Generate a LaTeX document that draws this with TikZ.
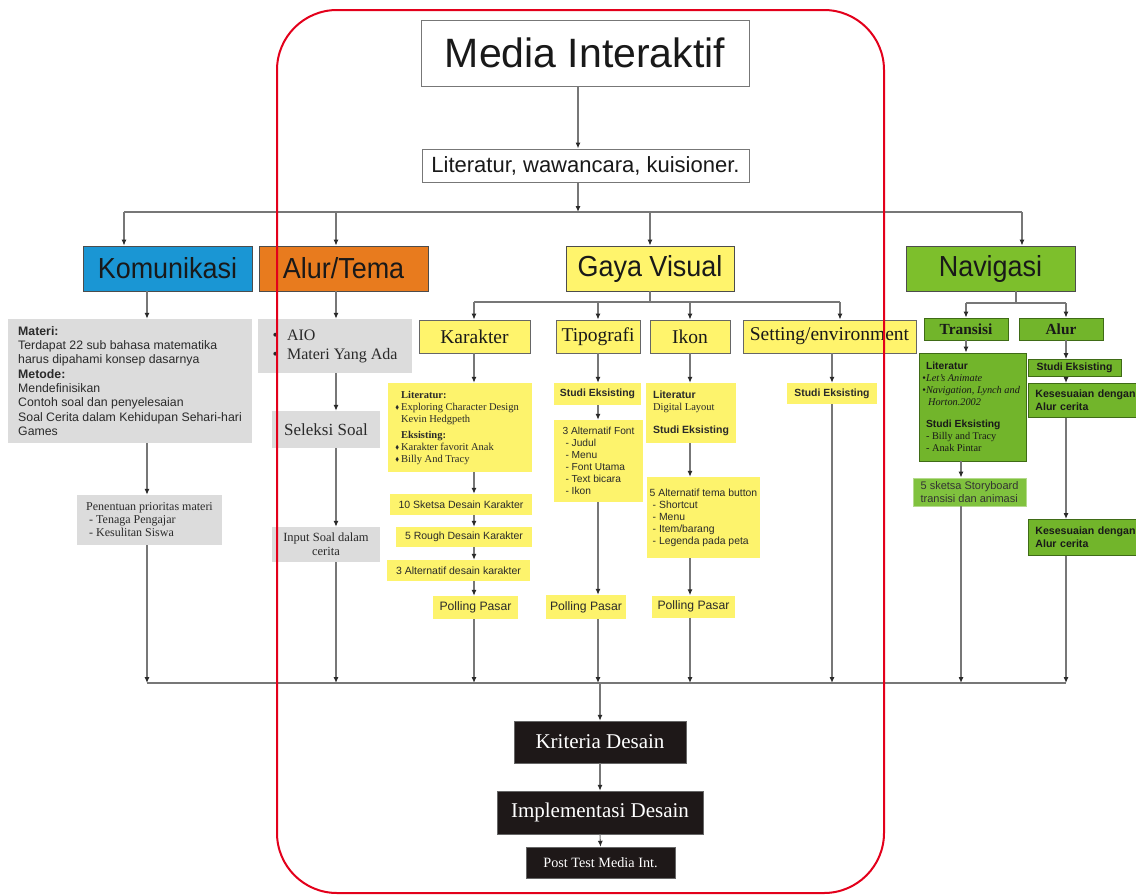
\documentclass[tikz,border=0pt]{standalone}
\usepackage{fontspec}
\usepackage{graphicx}
\usepackage{amssymb}
\setmainfont{Liberation Serif}
\newfontfamily\arial{Liberation Sans}
\newfontfamily\narrow[FakeStretch=0.93]{Liberation Sans}
\usetikzlibrary{arrows.meta,calc}
\newcommand{\fsz}[2]{\fontsize{#1}{#2}\selectfont}
\newcommand{\dmd}{\llap{\raisebox{0.8pt}{\scalebox{0.55}{$\blacklozenge$}}\hspace{2pt}}}
\definecolor{lc}{HTML}{777777}
\definecolor{ah}{HTML}{2A2A2A}
\definecolor{tx}{HTML}{2A2A2A}
\definecolor{cblue}{HTML}{1A96D4}
\definecolor{corange}{HTML}{E87B1E}
\definecolor{cyellow}{HTML}{FFF46C}
\definecolor{cgreen}{HTML}{7DBF2C}
\definecolor{ysm}{HTML}{FDF36C}
\definecolor{gry}{HTML}{DCDCDC}
\definecolor{grn}{HTML}{72B52B}
\definecolor{grnd}{HTML}{3F6B16}
\definecolor{grnl}{HTML}{80C23E}
\definecolor{grnb}{HTML}{B4DA8C}
\definecolor{blk}{HTML}{1E1818}
\definecolor{redf}{HTML}{E3001B}
\begin{document}
\begin{tikzpicture}[x=1pt,y=-1pt,
  ln/.style={draw=lc,line width=1.1pt},
  arr/.style={ln,-{Latex[length=6pt,width=5pt,color=ah]}},
  mainb/.style={draw=lc,fill=white,line width=1pt,inner sep=0pt,text=black!90},
  cat/.style={draw=black!70,line width=0.8pt,inner sep=0pt,minimum height=45,font=\narrow\fsz{29}{32},text=black!90},
  sub/.style={draw=black!60,fill=cyellow,line width=0.8pt,inner sep=0pt,minimum height=33,font=\fsz{19.5}{22},text=black!90},
  ys/.style={fill=ysm,inner sep=0pt,text=tx},
  gy/.style={fill=gry,inner sep=0pt,text=tx},
  gr/.style={fill=grn,draw=grnd,line width=0.8pt,inner sep=0pt,text=black!90},
  grl/.style={fill=grnl,draw=grnb,line width=0.8pt,inner sep=0pt,text=black!80},
  bk/.style={fill=blk,draw=black!60,inner sep=0pt,text=white,font=\fsz{21}{24}},
  poll/.style={font=\arial\fsz{12.2}{14}},
  studi/.style={font=\arial\bfseries\fsz{10.4}{12}},
  sml/.style={font=\arial\fsz{10.5}{12}}
]
\useasboundingbox (0,0) rectangle (1136,895);

% top
\node[mainb,minimum width=328,minimum height=66,font=\arial\fsz{41}{45}] (title) at (585,53) {Media Interaktif};
\node[mainb,minimum width=327,minimum height=33,font=\arial\fsz{22}{24}] (lit) at (585.5,165.5) {Literatur, wawancara, kuisioner.};

% categories
\node[cat,fill=cblue,minimum width=169] (kom) at (167.5,268.5) {Komunikasi};
\node[cat,fill=corange,minimum width=169] (alur) at (343.5,268.5) {Alur/Tema};
\node[cat,fill=cyellow,minimum width=168] (gaya) at (650,268.5) {Gaya Visual};
\node[cat,fill=cgreen,minimum width=169] (nav) at (990.5,268.5) {Navigasi};

% Komunikasi column
\node[gy,minimum width=244,minimum height=124,align=left,font=\arial\fsz{12.3}{14.3}] (komA) at (130,381) {\textbf{Materi:}\\Terdapat 22 sub bahasa matematika\\harus dipahami konsep dasarnya\\\textbf{Metode:}\\Mendefinisikan\\Contoh soal dan penyelesaian\\Soal Cerita dalam Kehidupan Sehari-hari\\Games};
\node[gy,minimum width=145,minimum height=50,align=left,font=\fsz{12}{13}] (komB) at (149.5,520) {Penentuan prioritas materi\\\hspace{3pt}- Tenaga Pengajar\\\hspace{3pt}- Kesulitan Siswa};

% Alur/Tema column
\node[gy,minimum width=154,minimum height=54,align=left,font=\fsz{16}{19}] (alA) at (335,346) {\textbullet\hspace{9pt}AIO\\\textbullet\hspace{9pt}Materi Yang Ada};
\node[gy,minimum width=108,minimum height=37,font=\fsz{17}{19}] (alB) at (326,429.5) {Seleksi Soal};
\node[gy,minimum width=108,minimum height=35,align=center,font=\fsz{12.5}{14}] (alC) at (326,544.5) {Input Soal dalam\\cerita};

% Gaya Visual sub-categories
\node[sub,minimum width=111] (kar) at (474.5,336.5) {Karakter};
\node[sub,minimum width=84] (tip) at (598,336.5) {Tipografi};
\node[sub,minimum width=80] (ikon) at (690,336.5) {Ikon};
\node[sub,minimum width=173] (set) at (829.5,336.5) {Setting/environment};

% Karakter column
\node[ys,minimum width=144,minimum height=89,align=left,font=\fsz{10.5}{12}] (kA) at (460,427.5) {\textbf{Literatur:}\\\dmd Exploring Character Design\\Kevin Hedgpeth\\[4pt]\textbf{Eksisting:}\\\dmd Karakter favorit Anak\\\dmd Billy And Tracy};
\node[ys,sml,minimum width=142,minimum height=21] (kB) at (461,504.5) {10 Sketsa Desain Karakter};
\node[ys,sml,minimum width=136,minimum height=20] (kC) at (464,537) {5 Rough Desain Karakter};
\node[ys,sml,minimum width=143,minimum height=21] (kD) at (458.5,570.5) {3 Alternatif desain karakter};
\node[ys,poll,minimum width=85,minimum height=23] (kE) at (475.5,607.5) {Polling Pasar};

% Tipografi column
\node[ys,studi,minimum width=87,minimum height=22] (tipA) at (597.5,394) {Studi Eksisting};
\node[ys,minimum width=89,minimum height=82,align=left,font=\arial\fsz{10.2}{12}] (tipB) at (598.5,461) {3 Alternatif Font\\\hspace{3pt}- Judul\\\hspace{3pt}- Menu\\\hspace{3pt}- Font Utama\\\hspace{3pt}- Text bicara\\\hspace{3pt}- Ikon};
\node[ys,poll,minimum width=80,minimum height=24] (tipC) at (586,607) {Polling Pasar};

% Ikon column
\node[ys,minimum width=90,minimum height=60,align=left,font=\fsz{10.5}{12.5}] (iA) at (691,413) {{\arial\bfseries Literatur}\\Digital Layout\\[10pt]{\arial\bfseries Studi Eksisting}};
\node[ys,minimum width=113,minimum height=81,align=left,font=\arial\fsz{10.4}{12}] (iB) at (703.5,517.5) {5 Alternatif tema button\\\hspace{3pt}- Shortcut\\\hspace{3pt}- Menu\\\hspace{3pt}- Item/barang\\\hspace{3pt}- Legenda pada peta};
\node[ys,poll,minimum width=83,minimum height=22] (iC) at (693.5,606.5) {Polling Pasar};

% Setting column
\node[ys,studi,minimum width=90,minimum height=21] (sA) at (832,393.5) {Studi Eksisting};

% Navigasi
\node[gr,minimum width=84,minimum height=22,font=\bfseries\fsz{15.4}{17}] (tr) at (966,329) {Transisi};
\node[gr,minimum width=84,minimum height=22,font=\bfseries\fsz{15.4}{17}] (al2) at (1061,329) {Alur};
\node[gr,minimum width=107,minimum height=108,align=left,font=\fsz{10.3}{12}] (nTA) at (973,407) {{\arial\bfseries Literatur}\\\llap{\textbullet}\textit{Let’s Animate}\\\llap{\textbullet}\textit{Navigation, Lynch and}\\\hspace{2pt}\textit{Horton.2002}\\[10pt]{\arial\bfseries Studi Eksisting}\\- Billy and Tracy\\- Anak Pintar};
\node[grl,minimum width=113,minimum height=28,align=left,font=\arial\fsz{11}{12.5}] (nTB) at (969.5,492) {5 sketsa Storyboard\\transisi dan animasi};
\node[gr,minimum width=93,minimum height=17,font=\arial\bfseries\fsz{10.5}{12}] (nAA) at (1074.5,368) {Studi Eksisting};
\node[gr,anchor=north west,text width=112,inner xsep=7pt,minimum height=34,align=left,font=\arial\bfseries\fsz{10.6}{12.5}] (nAB) at (1028,383) {Kesesuaian dengan\\Alur cerita};
\node[gr,anchor=north west,text width=112,inner xsep=7pt,minimum height=36,align=left,font=\arial\bfseries\fsz{10.6}{12.5}] (nAC) at (1028,519) {Kesesuaian dengan\\Alur cerita};

% bottom
\node[bk,minimum width=172,minimum height=42] (kri) at (600,742) {Kriteria Desain};
\node[bk,minimum width=206,minimum height=43] (imp) at (600,812.5) {Implementasi Desain};
\node[bk,minimum width=149,minimum height=31,font=\fsz{14.2}{16}] (post) at (600.5,862.5) {Post Test Media Int.};

% coordinates
\coordinate (t0) at (578,212);
\coordinate (tL) at (124,212);
\coordinate (tR) at (1022,212);
\coordinate (tAl) at (336,212);
\coordinate (cK) at (147,0);
\coordinate (cA) at (336,0);
\coordinate (cKar) at (474,0);
\coordinate (cTip) at (598,0);
\coordinate (cIk) at (690,0);
\coordinate (cSet) at (832,0);
\coordinate (cTr) at (961,0);
\coordinate (cTr1) at (966,0);
\coordinate (cAl) at (1066,0);
\coordinate (gbc) at (650,302);
\coordinate (gb1) at (474,302);
\coordinate (gb4) at (840,302);
\coordinate (nb) at (1016,303);
\coordinate (nb1) at (966,303);
\coordinate (nb2) at (1066,303);
\coordinate (bL) at (147,683);
\coordinate (bR) at (1066,683);
\coordinate (bM) at (600,683);

% connectors top
\draw[arr] ([xshift=-7pt]title.south) -- ([xshift=-7.5pt]lit.north);
\draw[arr] ([xshift=-7.5pt]lit.south) -- (t0);
\draw[ln] (tL) -- (tR);
\draw[arr] (tL) -- (tL |- kom.north);
\draw[arr] (tAl) -- (tAl |- alur.north);
\draw[arr] (gaya.north |- tL) -- (gaya.north);
\draw[arr] (tR) -- (tR |- nav.north);

% Komunikasi
\draw[arr] (kom.south -| cK) -- (komA.north -| cK);
\draw[arr] (komA.south -| cK) -- (komB.north -| cK);
\draw[arr] (komB.south -| cK) -- (bL);
% Alur/Tema
\draw[arr] (alur.south -| cA) -- (alA.north -| cA);
\draw[arr] (alA.south -| cA) -- (alB.north -| cA);
\draw[arr] (alB.south -| cA) -- (alC.north -| cA);
\draw[arr] (alC.south -| cA) -- (cA |- bL);
% Gaya Visual
\draw[ln] (gaya.south) -- (gbc);
\draw[ln] (gb1) -- (gb4);
\draw[arr] (gb1) -- (gb1 |- kar.north);
\draw[arr] (tip.north |- gb1) -- (tip.north);
\draw[arr] (ikon.north |- gb1) -- (ikon.north);
\draw[arr] (gb4) -- (gb4 |- set.north);
% Karakter
\draw[arr] (kar.south -| cKar) -- (kA.north -| cKar);
\draw[arr] (kA.south -| cKar) -- (kB.north -| cKar);
\draw[arr] (kB.south -| cKar) -- (kC.north -| cKar);
\draw[arr] (kC.south -| cKar) -- (kD.north -| cKar);
\draw[arr] (kD.south -| cKar) -- (kE.north -| cKar);
\draw[arr] (kE.south -| cKar) -- (cKar |- bL);
% Tipografi
\draw[arr] (tip.south -| cTip) -- (tipA.north -| cTip);
\draw[arr] (tipA.south -| cTip) -- (tipB.north -| cTip);
\draw[arr] (tipB.south -| cTip) -- (tipC.north -| cTip);
\draw[arr] (tipC.south -| cTip) -- (cTip |- bL);
% Ikon
\draw[arr] (ikon.south -| cIk) -- (iA.north -| cIk);
\draw[arr] (iA.south -| cIk) -- (iB.north -| cIk);
\draw[arr] (iB.south -| cIk) -- (iC.north -| cIk);
\draw[arr] (iC.south -| cIk) -- (cIk |- bL);
% Setting
\draw[arr] (set.south -| cSet) -- (sA.north -| cSet);
\draw[arr] (sA.south -| cSet) -- (cSet |- bL);
% Navigasi
\draw[ln] (nav.south -| nb) -- (nb);
\draw[ln] (nb1) -- (nb2);
\draw[arr] (nb1) -- (nb1 |- tr.north);
\draw[arr] (nb2) -- (nb2 |- al2.north);
\draw[arr] (tr.south -| cTr1) -- (nTA.north -| cTr1);
\draw[arr] (nTA.south -| cTr) -- (nTB.north -| cTr);
\draw[arr] (nTB.south -| cTr) -- (cTr |- bL);
\draw[arr] (al2.south -| cAl) -- (nAA.north -| cAl);
\draw[arr] (nAA.south -| cAl) -- (nAB.north -| cAl);
\draw[arr] (nAB.south -| cAl) -- (nAC.north -| cAl);
\draw[arr] (nAC.south -| cAl) -- (bR);
% bottom bus
\draw[ln] (bL) -- (bR);
\draw[arr] (bM) -- (kri.north);
\draw[arr] (kri.south) -- (imp.north);
\draw[arr] (imp.south) -- (post.north);

% red frame
\draw[draw=redf,line width=2pt,rounded corners=60pt] (277,10) rectangle (884,893);
\end{tikzpicture}
\end{document}
